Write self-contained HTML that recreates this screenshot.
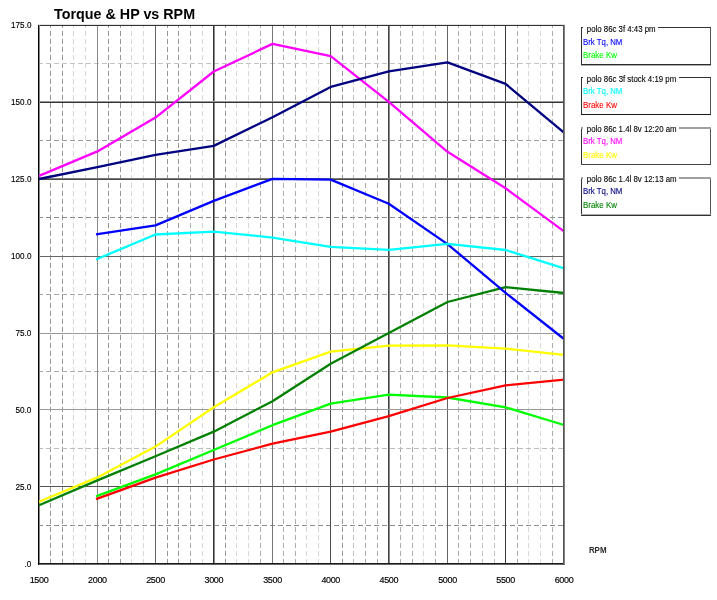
<!DOCTYPE html>
<html><head><meta charset="utf-8"><title>Torque &amp; HP vs RPM</title>
<style>
html,body{margin:0;padding:0;background:#fff;overflow:hidden}
svg{display:block}
.dv{stroke-width:1;stroke-dasharray:5 3;shape-rendering:crispEdges}
.cv{fill:none;stroke-width:2.3;stroke-linejoin:round;stroke-linecap:butt}
text{font-family:"Liberation Sans",Arial,sans-serif;fill:#000}
.yl{font-size:9.9px;text-anchor:end;stroke:#000;stroke-width:0.15px}
.xl{font-size:9px;text-anchor:middle;letter-spacing:-0.35px;stroke:#000;stroke-width:0.15px}
.tt{font-size:15px;font-weight:bold}
.lg{fill:none;stroke:#222;stroke-width:1.2}
.lt{font-size:8.8px;stroke:#000;stroke-width:0.12px}
.li{font-size:9.2px;stroke-width:0.12px}
.rpm{font-size:8.7px;font-weight:bold;fill:#2a2a2a}
</style></head>
<body>
<svg width="717" height="600" viewBox="0 0 717 600">
<rect width="717" height="600" fill="#fff"/>
<text x="54.1" y="18.6" class="tt" textLength="141" lengthAdjust="spacingAndGlyphs">Torque &amp; HP vs RPM</text>
<g>
<line x1="50.5" y1="25" x2="50.5" y2="564" stroke="#959595" class="dv" stroke-dashoffset="2"/>
<line x1="62.5" y1="25" x2="62.5" y2="564" stroke="#959595" class="dv" stroke-dashoffset="2"/>
<line x1="73.5" y1="25" x2="73.5" y2="564" stroke="#d6d6d6" class="dv" stroke-dashoffset="2"/>
<line x1="85.5" y1="25" x2="85.5" y2="564" stroke="#d6d6d6" class="dv" stroke-dashoffset="2"/>
<line x1="108.5" y1="25" x2="108.5" y2="564" stroke="#959595" class="dv" stroke-dashoffset="2"/>
<line x1="120.5" y1="25" x2="120.5" y2="564" stroke="#959595" class="dv" stroke-dashoffset="2"/>
<line x1="131.5" y1="25" x2="131.5" y2="564" stroke="#d6d6d6" class="dv" stroke-dashoffset="2"/>
<line x1="143.5" y1="25" x2="143.5" y2="564" stroke="#d6d6d6" class="dv" stroke-dashoffset="2"/>
<line x1="167.5" y1="25" x2="167.5" y2="564" stroke="#959595" class="dv" stroke-dashoffset="2"/>
<line x1="178.5" y1="25" x2="178.5" y2="564" stroke="#959595" class="dv" stroke-dashoffset="2"/>
<line x1="190.5" y1="25" x2="190.5" y2="564" stroke="#acacac" class="dv" stroke-dashoffset="2"/>
<line x1="202.5" y1="25" x2="202.5" y2="564" stroke="#d6d6d6" class="dv" stroke-dashoffset="2"/>
<line x1="225.5" y1="25" x2="225.5" y2="564" stroke="#959595" class="dv" stroke-dashoffset="2"/>
<line x1="236.5" y1="25" x2="236.5" y2="564" stroke="#d6d6d6" class="dv" stroke-dashoffset="2"/>
<line x1="248.5" y1="25" x2="248.5" y2="564" stroke="#d6d6d6" class="dv" stroke-dashoffset="2"/>
<line x1="260.5" y1="25" x2="260.5" y2="564" stroke="#acacac" class="dv" stroke-dashoffset="2"/>
<line x1="283.5" y1="25" x2="283.5" y2="564" stroke="#acacac" class="dv" stroke-dashoffset="2"/>
<line x1="295.5" y1="25" x2="295.5" y2="564" stroke="#acacac" class="dv" stroke-dashoffset="2"/>
<line x1="306.5" y1="25" x2="306.5" y2="564" stroke="#d6d6d6" class="dv" stroke-dashoffset="2"/>
<line x1="318.5" y1="25" x2="318.5" y2="564" stroke="#d6d6d6" class="dv" stroke-dashoffset="2"/>
<line x1="342.5" y1="25" x2="342.5" y2="564" stroke="#959595" class="dv" stroke-dashoffset="2"/>
<line x1="353.5" y1="25" x2="353.5" y2="564" stroke="#c0c0c0" class="dv" stroke-dashoffset="2"/>
<line x1="365.5" y1="25" x2="365.5" y2="564" stroke="#acacac" class="dv" stroke-dashoffset="2"/>
<line x1="377.5" y1="25" x2="377.5" y2="564" stroke="#acacac" class="dv" stroke-dashoffset="2"/>
<line x1="400.5" y1="25" x2="400.5" y2="564" stroke="#acacac" class="dv" stroke-dashoffset="2"/>
<line x1="412.5" y1="25" x2="412.5" y2="564" stroke="#acacac" class="dv" stroke-dashoffset="2"/>
<line x1="423.5" y1="25" x2="423.5" y2="564" stroke="#d6d6d6" class="dv" stroke-dashoffset="2"/>
<line x1="435.5" y1="25" x2="435.5" y2="564" stroke="#acacac" class="dv" stroke-dashoffset="2"/>
<line x1="458.5" y1="25" x2="458.5" y2="564" stroke="#acacac" class="dv" stroke-dashoffset="2"/>
<line x1="470.5" y1="25" x2="470.5" y2="564" stroke="#acacac" class="dv" stroke-dashoffset="2"/>
<line x1="482.5" y1="25" x2="482.5" y2="564" stroke="#c0c0c0" class="dv" stroke-dashoffset="2"/>
<line x1="494.5" y1="25" x2="494.5" y2="564" stroke="#c0c0c0" class="dv" stroke-dashoffset="2"/>
<line x1="517.5" y1="25" x2="517.5" y2="564" stroke="#acacac" class="dv" stroke-dashoffset="2"/>
<line x1="528.5" y1="25" x2="528.5" y2="564" stroke="#d6d6d6" class="dv" stroke-dashoffset="2"/>
<line x1="540.5" y1="25" x2="540.5" y2="564" stroke="#d6d6d6" class="dv" stroke-dashoffset="2"/>
<line x1="552.5" y1="25" x2="552.5" y2="564" stroke="#acacac" class="dv" stroke-dashoffset="2"/>
<line x1="38" y1="63.5" x2="563" y2="63.5" stroke="#c4c4c4" class="dv"/>
<line x1="38" y1="140.5" x2="563" y2="140.5" stroke="#9c9c9c" class="dv"/>
<line x1="38" y1="217.5" x2="563" y2="217.5" stroke="#8c8c8c" class="dv"/>
<line x1="38" y1="294.5" x2="563" y2="294.5" stroke="#a8a8a8" class="dv"/>
<line x1="38" y1="371.5" x2="563" y2="371.5" stroke="#aaaaaa" class="dv"/>
<line x1="38" y1="448.5" x2="563" y2="448.5" stroke="#bcbcbc" class="dv"/>
<line x1="38" y1="525.5" x2="563" y2="525.5" stroke="#8c8c8c" class="dv"/>
<rect x="97" y="25" width="1" height="539" fill="#8a8a8a"/>
<rect x="155" y="25" width="1" height="539" fill="#646464"/>
<rect x="213" y="25" width="1" height="539" fill="#333"/>
<rect x="214" y="25" width="1" height="539" fill="#8a8a8a"/>
<rect x="272" y="25" width="1" height="539" fill="#767676"/>
<rect x="330" y="25" width="1" height="539" fill="#4d4d4d"/>
<rect x="388" y="25" width="1" height="539" fill="#444"/>
<rect x="389" y="25" width="1" height="539" fill="#888"/>
<rect x="447" y="25" width="1" height="539" fill="#646464"/>
<rect x="505" y="25" width="1" height="539" fill="#3c3c3c"/>
<rect x="38" y="101" width="527" height="1" fill="#999"/>
<rect x="38" y="102" width="527" height="1" fill="#333"/>
<rect x="38" y="178" width="527" height="1" fill="#777"/>
<rect x="38" y="179" width="527" height="1" fill="#4a4a4a"/>
<rect x="38" y="256" width="527" height="1" fill="#666"/>
<rect x="38" y="333" width="527" height="1" fill="#999"/>
<rect x="38" y="409" width="527" height="1" fill="#999"/>
<rect x="38" y="486" width="527" height="1" fill="#555"/>
</g>
<rect x="38" y="25" width="527" height="1" fill="#333"/>
<rect x="38" y="24" width="527" height="1" fill="#e4e4e4"/>
<rect x="38" y="563" width="527" height="1" fill="#1a1a1a"/>
<rect x="38" y="564" width="527" height="1" fill="#666"/>
<rect x="38" y="25" width="1" height="540" fill="#000"/>
<rect x="39" y="25" width="1" height="538" fill="#888"/>
<rect x="563" y="25" width="1" height="540" fill="#555"/>
<rect x="564" y="25" width="1" height="540" fill="#808080"/>
<g>
<polyline points="39.00,175.90 97.40,151.40 155.50,117.60 213.75,71.50 272.50,43.90 330.70,56.10 388.80,101.90 447.50,151.80 505.60,188.30 564.00,231.40" stroke="#ff00ff" class="cv"/>
<polyline points="39.00,501.70 97.40,477.40 155.50,446.60 213.75,407.30 272.50,372.30 330.70,351.60 388.80,345.70 447.50,345.40 505.60,348.70 564.00,354.80" stroke="#ffff00" class="cv"/>
<polyline points="39.00,179.00 97.40,167.10 155.50,154.90 213.75,145.90 272.50,117.30 330.70,86.90 388.80,71.40 447.50,62.40 505.60,83.90 564.00,132.70" stroke="#000080" class="cv"/>
<polyline points="39.00,505.20 97.40,480.40 155.50,456.20 213.75,431.65 272.50,401.20 330.70,363.70 388.80,333.00 447.50,302.00 505.60,287.10 564.00,293.00" stroke="#008000" class="cv"/>
<polyline points="96.00,234.41 155.50,225.40 213.75,200.90 272.50,178.90 330.70,179.60 388.80,203.80 447.50,244.10 505.60,292.90 564.00,339.00" stroke="#0000ff" class="cv"/>
<polyline points="96.00,496.42 155.50,474.40 213.75,450.00 272.50,425.20 330.70,403.70 388.80,394.60 447.50,397.50 505.60,407.30 564.00,425.00" stroke="#00ff00" class="cv"/>
<polyline points="96.00,259.49 155.50,234.50 213.75,231.60 272.50,237.60 330.70,246.80 388.80,249.90 447.50,243.90 505.60,250.00 564.00,268.30" stroke="#00ffff" class="cv"/>
<polyline points="96.00,499.11 155.50,477.60 213.75,459.50 272.50,443.70 330.70,431.60 388.80,416.10 447.50,398.00 505.60,385.40 564.00,379.60" stroke="#ff0000" class="cv"/>
</g>
<rect x="38" y="25" width="1" height="540" fill="#000"/>
<rect x="563" y="25" width="1" height="540" fill="#555"/>
<rect x="564" y="25" width="1" height="540" fill="#808080"/>
<g>
<text x="31.4" y="27.6" class="yl" textLength="20.3" lengthAdjust="spacingAndGlyphs">175.0</text>
<text x="31.4" y="105.3" class="yl" textLength="20.3" lengthAdjust="spacingAndGlyphs">150.0</text>
<text x="31.4" y="182.2" class="yl" textLength="20.3" lengthAdjust="spacingAndGlyphs">125.0</text>
<text x="31.4" y="258.9" class="yl" textLength="20.3" lengthAdjust="spacingAndGlyphs">100.0</text>
<text x="31.4" y="335.6" class="yl" textLength="16.0" lengthAdjust="spacingAndGlyphs">75.0</text>
<text x="31.4" y="412.6" class="yl" textLength="16.0" lengthAdjust="spacingAndGlyphs">50.0</text>
<text x="31.4" y="489.6" class="yl" textLength="16.0" lengthAdjust="spacingAndGlyphs">25.0</text>
<text x="31.4" y="566.6" class="yl" textLength="6.8" lengthAdjust="spacingAndGlyphs">.0</text>
<text x="39.0" y="583.2" class="xl">1500</text>
<text x="97.4" y="583.2" class="xl">2000</text>
<text x="155.5" y="583.2" class="xl">2500</text>
<text x="213.8" y="583.2" class="xl">3000</text>
<text x="272.5" y="583.2" class="xl">3500</text>
<text x="330.7" y="583.2" class="xl">4000</text>
<text x="388.8" y="583.2" class="xl">4500</text>
<text x="447.5" y="583.2" class="xl">5000</text>
<text x="505.6" y="583.2" class="xl">5500</text>
<text x="564.0" y="583.2" class="xl">6000</text>
</g>
<text x="588.9" y="552.9" class="rpm" textLength="17.6" lengthAdjust="spacingAndGlyphs">RPM</text>
<g>
<rect x="581" y="27" width="1" height="39" fill="#333"/>
<rect x="710" y="27" width="1" height="39" fill="#555"/>
<rect x="581" y="27" width="2" height="1" fill="#333"/>
<rect x="658" y="27" width="53" height="1" fill="#333"/>
<rect x="581" y="64" width="130" height="1" fill="#2a2a2a"/>
<rect x="581" y="65" width="130" height="1" fill="#b0b0b0"/>
<text x="586.8" y="31.9" class="lt" textLength="68.8" lengthAdjust="spacingAndGlyphs">polo 86c 3f 4:43 pm</text>
<text x="583" y="44.6" class="li" style="fill:#0000ff;stroke:#0000ff" textLength="39.4" lengthAdjust="spacingAndGlyphs">Brk Tq, NM</text>
<text x="583" y="57.5" class="li" style="fill:#00ff00;stroke:#00ff00" textLength="33.9" lengthAdjust="spacingAndGlyphs">Brake Kw</text>
<rect x="581" y="77" width="1" height="38" fill="#333"/>
<rect x="710" y="77" width="1" height="38" fill="#555"/>
<rect x="581" y="77" width="2" height="1" fill="#333"/>
<rect x="679" y="77" width="32" height="1" fill="#333"/>
<rect x="581" y="114" width="130" height="1" fill="#1a1a1a"/>
<text x="586.8" y="81.9" class="lt" textLength="89.4" lengthAdjust="spacingAndGlyphs">polo 86c 3f stock 4:19 pm</text>
<text x="583" y="93.8" class="li" style="fill:#00ffff;stroke:#00ffff" textLength="39.4" lengthAdjust="spacingAndGlyphs">Brk Tq, NM</text>
<text x="583" y="107.5" class="li" style="fill:#ff0000;stroke:#ff0000" textLength="33.9" lengthAdjust="spacingAndGlyphs">Brake Kw</text>
<rect x="581" y="127" width="1" height="38" fill="#333"/>
<rect x="710" y="127" width="1" height="38" fill="#555"/>
<rect x="581" y="127" width="2" height="1" fill="#a0a0a0"/>
<rect x="679" y="127" width="32" height="1" fill="#a0a0a0"/>
<rect x="581" y="128" width="2" height="1" fill="#a0a0a0"/>
<rect x="679" y="128" width="32" height="1" fill="#a0a0a0"/>
<rect x="581" y="164" width="130" height="1" fill="#444"/>
<text x="586.8" y="132.3" class="lt" textLength="89.8" lengthAdjust="spacingAndGlyphs">polo 86c 1.4l 8v 12:20 am</text>
<text x="583" y="143.7" class="li" style="fill:#ff00ff;stroke:#ff00ff" textLength="39.4" lengthAdjust="spacingAndGlyphs">Brk Tq, NM</text>
<text x="583" y="157.8" class="li" style="fill:#ffff00;stroke:#ffff00" textLength="33.9" lengthAdjust="spacingAndGlyphs">Brake Kw</text>
<rect x="581" y="177" width="1" height="39" fill="#333"/>
<rect x="710" y="177" width="1" height="39" fill="#555"/>
<rect x="581" y="177" width="2" height="1" fill="#a0a0a0"/>
<rect x="679" y="177" width="32" height="1" fill="#a0a0a0"/>
<rect x="581" y="178" width="2" height="1" fill="#a0a0a0"/>
<rect x="679" y="178" width="32" height="1" fill="#a0a0a0"/>
<rect x="581" y="214" width="130" height="1" fill="#aaa"/>
<rect x="581" y="215" width="130" height="1" fill="#333"/>
<text x="586.8" y="182.3" class="lt" textLength="89.8" lengthAdjust="spacingAndGlyphs">polo 86c 1.4l 8v 12:13 am</text>
<text x="583" y="194.2" class="li" style="fill:#000080;stroke:#000080" textLength="39.4" lengthAdjust="spacingAndGlyphs">Brk Tq, NM</text>
<text x="583" y="208.0" class="li" style="fill:#008000;stroke:#008000" textLength="33.9" lengthAdjust="spacingAndGlyphs">Brake Kw</text>
</g>
</svg>
</body></html>
